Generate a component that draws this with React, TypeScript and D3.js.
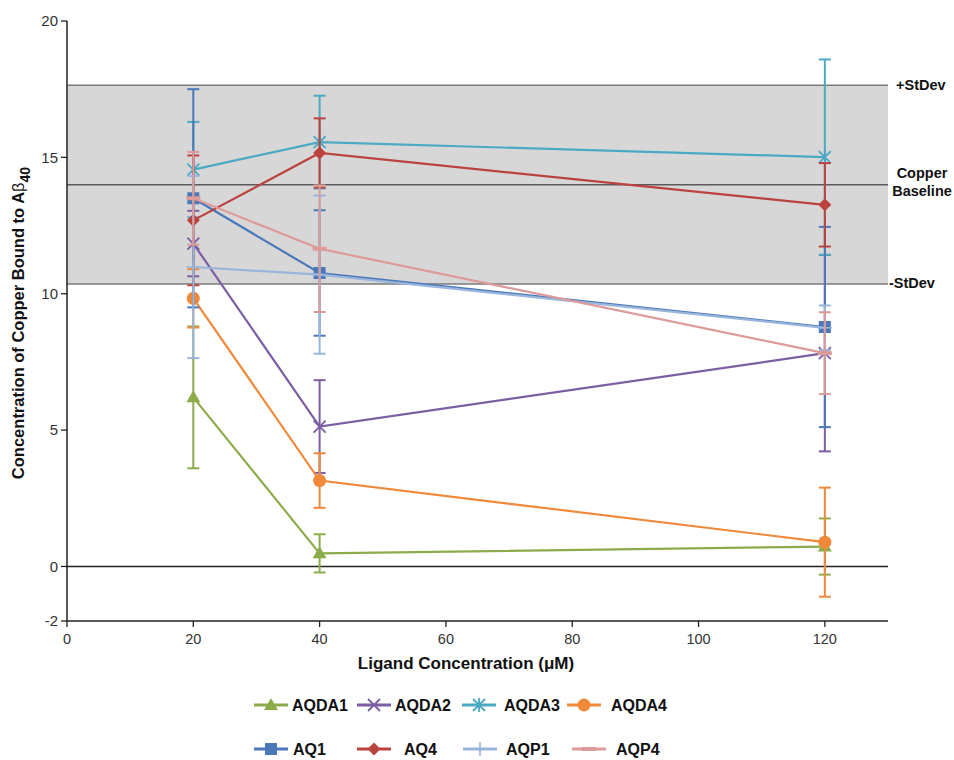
import React from "react";
import * as d3 from "d3";

const xValues = [20, 40, 120];
const seriesNames = ["AQDA1", "AQDA2", "AQDA3", "AQDA4", "AQ1", "AQ4", "AQP1", "AQP4"];
const AQDA1 = [6.2, 0.48, 0.73];
const AQDA1_err = [2.6, 0.7, 1.03];
const AQDA2 = [11.84, 5.13, 7.82];
const AQDA2_err = [1.2, 1.7, 3.6];
const AQDA3 = [14.55, 15.56, 15.01];
const AQDA3_err = [1.75, 1.7, 3.58];
const AQDA4 = [9.83, 3.15, 0.89];
const AQDA4_err = [1.07, 1.0, 2.0];
const AQ1 = [13.5, 10.76, 8.78];
const AQ1_err = [4.0, 2.3, 3.67];
const AQ4 = [12.69, 15.16, 13.26];
const AQ4_err = [2.38, 1.27, 1.53];
const AQP1 = [10.98, 10.7, 8.75];
const AQP1_err = [3.34, 2.9, 0.82];
const AQP4 = [13.5, 11.65, 7.82];
const AQP4_err = [1.7, 2.32, 1.5];

const baseline = 14.0;
const stdev = 3.64;
const yTicks = [-2, 0, 5, 10, 15, 20];
const xTicks = [0, 20, 40, 60, 80, 100, 120];

const seriesValues = [AQDA1, AQDA2, AQDA3, AQDA4, AQ1, AQ4, AQP1, AQP4];
const seriesErrors = [AQDA1_err, AQDA2_err, AQDA3_err, AQDA4_err, AQ1_err, AQ4_err, AQP1_err, AQP4_err];
const colors = ["#8cac4c", "#7b5ea3", "#4aa9c4", "#f0893a", "#4a78b8", "#bb433f", "#98b5dc", "#dc9a98"];
const markers = ["triangle", "x", "asterisk", "circle", "square", "diamond", "plus", "dash"];

const legendPos = [
  { x: 254, y: 705, tx: 292 },
  { x: 357, y: 705, tx: 395 },
  { x: 462, y: 705, tx: 504 },
  { x: 567, y: 705, tx: 611 },
  { x: 254, y: 749, tx: 293 },
  { x: 357, y: 749, tx: 404 },
  { x: 463, y: 749, tx: 506 },
  { x: 572, y: 749, tx: 616 },
];

function Marker({ kind, x, y, color }: { kind: string; x: number; y: number; color: string }) {
  const s = 6;
  switch (kind) {
    case "triangle":
      return <path d={`M${x},${y - 7}L${x + 7},${y + 5}L${x - 7},${y + 5}Z`} fill={color} />;
    case "x":
      return (
        <path d={`M${x - s},${y - s}L${x + s},${y + s}M${x - s},${y + s}L${x + s},${y - s}`} stroke={color} strokeWidth={1.8} fill="none" />
      );
    case "asterisk":
      return (
        <path
          d={`M${x - s},${y - s}L${x + s},${y + s}M${x - s},${y + s}L${x + s},${y - s}M${x},${y - 7}L${x},${y + 7}`}
          stroke={color}
          strokeWidth={1.8}
          fill="none"
        />
      );
    case "circle":
      return <circle cx={x} cy={y} r={6.5} fill={color} />;
    case "square":
      return <rect x={x - 6} y={y - 6} width={12} height={12} fill={color} />;
    case "diamond":
      return <path d={`M${x},${y - 6.5}L${x + 6.5},${y}L${x},${y + 6.5}L${x - 6.5},${y}Z`} fill={color} />;
    case "plus":
      return <path d={`M${x - 7},${y}L${x + 7},${y}M${x},${y - 7}L${x},${y + 7}`} stroke={color} strokeWidth={1.6} fill="none" />;
    case "dash":
      return <path d={`M${x - 7},${y}L${x + 7},${y}`} stroke={color} strokeWidth={4} fill="none" />;
    default:
      return null;
  }
}

export default function App() {
  const width = 954;
  const height = 760;
  const x = d3.scaleLinear().domain([0, 130]).range([67, 888]);
  const y = d3.scaleLinear().domain([-2, 20]).range([621, 21]);
  const line = d3
    .line<[number, number]>()
    .x((d) => x(d[0]))
    .y((d) => y(d[1]));
  const font = "'Liberation Sans', Arial, Helvetica, sans-serif";
  const cap = 6;

  return (
    <svg width={width} height={height} style={{ position: "absolute", left: 0, top: 0, background: "#fff" }} fontFamily={font}>
      {/* band */}
      <rect x={x(0)} y={y(baseline + stdev)} width={x(130) - x(0)} height={y(baseline - stdev) - y(baseline + stdev)} fill="#d8d7d7" />
      <line x1={x(0)} x2={x(130)} y1={y(baseline + stdev)} y2={y(baseline + stdev)} stroke="#7a7a7a" strokeWidth={1.5} />
      <line x1={x(0)} x2={x(130)} y1={y(baseline - stdev)} y2={y(baseline - stdev)} stroke="#7a7a7a" strokeWidth={1.5} />
      <line x1={x(0)} x2={x(130)} y1={y(baseline)} y2={y(baseline)} stroke="#5a5a5a" strokeWidth={1.5} />
      <line x1={x(0)} x2={x(130)} y1={y(0)} y2={y(0)} stroke="#222" strokeWidth={1.5} />

      {/* axes */}
      <line x1={x(0)} x2={x(0)} y1={y(20)} y2={y(-2)} stroke="#222" strokeWidth={1.5} />
      <line x1={x(0)} x2={x(130)} y1={y(-2)} y2={y(-2)} stroke="#222" strokeWidth={1.5} />
      {yTicks.map((t) => (
        <g key={"yt" + t}>
          <line x1={x(0) - 6} x2={x(0)} y1={y(t)} y2={y(t)} stroke="#222" strokeWidth={1.3} />
          <text x={x(0) - 9} y={y(t)} dy="0.35em" textAnchor="end" fontSize={15} fill="#333">
            {t}
          </text>
        </g>
      ))}
      {xTicks.map((t) => (
        <g key={"xt" + t}>
          <line x1={x(t)} x2={x(t)} y1={y(-2)} y2={y(-2) + 6} stroke="#222" strokeWidth={1.3} />
          <text x={x(t)} y={y(-2) + 23} textAnchor="middle" fontSize={14.5} fill="#333">
            {t}
          </text>
        </g>
      ))}

      {/* axis titles */}
      <text x={466} y={669} textAnchor="middle" fontSize={17} fontWeight="bold" fill="#111">
        Ligand Concentration (μM)
      </text>
      <text transform="translate(24,323) rotate(-90)" textAnchor="middle" fontSize={16.5} fontWeight="bold" fill="#111">
        Concentration of Copper Bound to A<tspan fontWeight="normal">β</tspan>
        <tspan dy="6" fontSize={14}>40</tspan>
      </text>

      {/* band labels */}
      <text x={896} y={90} fontSize={14.5} fontWeight="bold" fill="#111">+StDev</text>
      <text x={922} y={178} fontSize={14.5} fontWeight="bold" fill="#111" textAnchor="middle">Copper</text>
      <text x={922} y={196} fontSize={14.5} fontWeight="bold" fill="#111" textAnchor="middle">Baseline</text>
      <text x={889} y={288} fontSize={14.5} fontWeight="bold" fill="#111">-StDev</text>

      {/* series */}
      {seriesValues.map((vals, i) => {
        const color = colors[i];
        const errs = seriesErrors[i];
        const pts = xValues.map((xv, j) => [xv, vals[j]] as [number, number]);
        return (
          <g key={seriesNames[i]}>
            {pts.map((p, j) => {
              const cx = x(p[0]);
              const y1 = y(p[1] + errs[j]);
              const y2 = y(p[1] - errs[j]);
              return (
                <g key={j} stroke={color} strokeWidth={2}>
                  <line x1={cx} x2={cx} y1={y1} y2={y2} />
                  <line x1={cx - cap} x2={cx + cap} y1={y1} y2={y1} />
                  <line x1={cx - cap} x2={cx + cap} y1={y2} y2={y2} />
                </g>
              );
            })}
            <path d={line(pts) || ""} fill="none" stroke={color} strokeWidth={2.2} />
            {pts.map((p, j) => (
              <Marker key={"m" + j} kind={markers[i]} x={x(p[0])} y={y(p[1])} color={color} />
            ))}
          </g>
        );
      })}

      {/* legend */}
      {seriesNames.map((name, i) => {
        const lp = legendPos[i];
        return (
          <g key={"lg" + name}>
            <line x1={lp.x} x2={lp.x + 34} y1={lp.y} y2={lp.y} stroke={colors[i]} strokeWidth={3} />
            <Marker kind={markers[i]} x={lp.x + 17} y={lp.y} color={colors[i]} />
            <text x={lp.tx} y={lp.y} dy="0.36em" fontSize={16} fontWeight="bold" fill="#111">
              {name}
            </text>
          </g>
        );
      })}
    </svg>
  );
}
